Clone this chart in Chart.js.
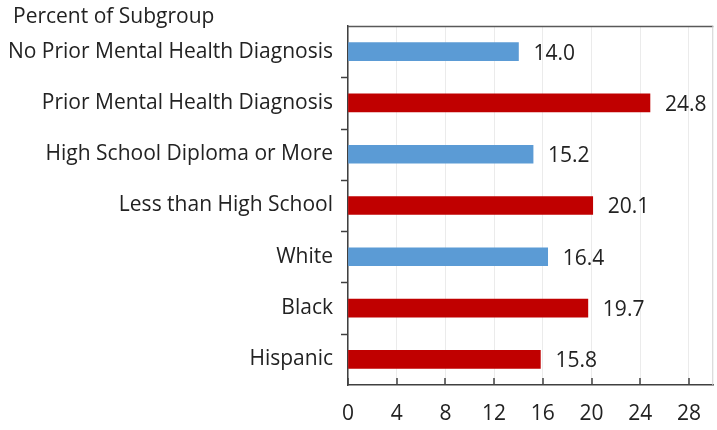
<!DOCTYPE html>
<html>
<head>
<meta charset="utf-8">
<script src="https://cdn.jsdelivr.net/npm/chart.js@4"></script>
<style>
  body { margin: 0; background: #fff; }
  #wrap { width: 717px; height: 430px; }
</style>
</head>
<body>
<div id="wrap"><canvas id="chart"></canvas></div>
<script>
const categories = [
    'No Prior Mental Health Diagnosis',
    'Prior Mental Health Diagnosis',
    'High School Diploma or More',
    'Less than High School',
    'White',
    'Black',
    'Hispanic'
];
const percentValues = [14.0, 24.8, 15.2, 20.1, 16.4, 19.7, 15.8];
const barColors = ['#5B9BD5', '#C00000', '#5B9BD5', '#C00000', '#5B9BD5', '#C00000', '#C00000'];
const xTicks = [0, 4, 8, 12, 16, 20, 24, 28];
const axisTitle = 'Percent of Subgroup';

const FONT = '"Open Sans", sans-serif';
const TEXT = '#222222';

// draws title, frame, tick marks and value labels
const extras = {
    id: 'extras',
    afterDatasetsDraw(chart) {
        const ctx = chart.ctx;
        const a = chart.chartArea;
        const x = chart.scales.x, y = chart.scales.y;
        ctx.save();
        // frame: dark top, light right
        ctx.strokeStyle = '#595959';
        ctx.lineWidth = 1.5;
        ctx.beginPath();
        ctx.moveTo(a.left, a.top + 0.5);
        ctx.lineTo(a.right, a.top + 0.5);
        ctx.stroke();
        ctx.strokeStyle = '#d0d0d0';
        ctx.lineWidth = 1;
        ctx.beginPath();
        ctx.moveTo(a.right - 0.5, a.top);
        ctx.lineTo(a.right - 0.5, a.bottom);
        ctx.stroke();
        // x tick marks pointing up into the plot
        ctx.strokeStyle = '#404040';
        ctx.lineWidth = 1.5;
        xTicks.forEach(v => {
            const px = Math.round(x.getPixelForValue(v));
            ctx.beginPath();
            ctx.moveTo(px, a.bottom);
            ctx.lineTo(px, a.bottom - 7);
            ctx.stroke();
        });
        // y tick marks between categories
        const step = (a.bottom - a.top) / categories.length;
        for (let i = 1; i < categories.length; i++) {
            const py = Math.round(a.top + step * i) + 0.5;
            ctx.beginPath();
            ctx.moveTo(a.left - 7, py);
            ctx.lineTo(a.left, py);
            ctx.stroke();
        }
        // value labels
        ctx.fillStyle = TEXT;
        ctx.font = '21px ' + FONT;
        ctx.textAlign = 'left';
        ctx.textBaseline = 'middle';
        percentValues.forEach((v, i) => {
            ctx.fillText(v.toFixed(1), x.getPixelForValue(v) + 15, y.getPixelForValue(i) + 2);
        });
        // axis title
        ctx.font = '21px ' + FONT;
        ctx.fillText(axisTitle, 13, 17);
        ctx.restore();
    }
};

new Chart(document.getElementById('chart'), {
    type: 'bar',
    data: {
        labels: categories,
        datasets: [{
            data: percentValues,
            backgroundColor: barColors,
            barThickness: 18
        }]
    },
    options: {
        indexAxis: 'y',
        responsive: true,
        maintainAspectRatio: false,
        animation: false,
        layout: { padding: { top: 26, right: 1 } },
        plugins: {
            legend: { display: false },
            tooltip: { enabled: false }
        },
        scales: {
            x: {
                min: 0,
                max: 30,
                afterBuildTicks: s => { s.ticks = xTicks.map(v => ({ value: v })); },
                afterFit: s => { s.height = 45; },
                grid: { color: '#ebebeb', drawTicks: false },
                border: { color: '#404040', width: 1.5 },
                ticks: { color: TEXT, font: { family: FONT, size: 21 }, padding: 16 }
            },
            y: {
                afterFit: s => { s.width = 348; },
                grid: { display: false },
                border: { color: '#404040', width: 1.5 },
                ticks: { color: TEXT, font: { family: FONT, size: 21 }, padding: 7 }
            }
        }
    },
    plugins: [extras]
});
</script>
</body>
</html>
